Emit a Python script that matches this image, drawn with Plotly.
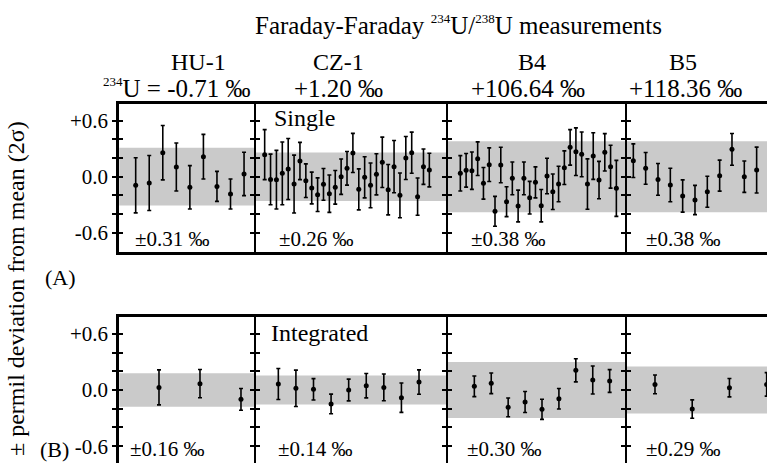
import plotly.graph_objects as go

W, H = 767, 463
FONT = "Liberation Serif"


def px(x):
    return x / W


def py(y):
    return 1 - y / H


def sup(t, size):
    return f'<sup><span style="font-size:{size}px">{t}</span></sup>'


# ---------------- data ----------------
samples = ["HU-1", "CZ-1", "B4", "B5"]
delta234 = [sup("234", 13) + "U = -0.71 ‰", "+1.20 ‰", "+106.64 ‰", "+118.36 ‰"]

# (A) Single measurements: deviation from mean (permil) and 2-sigma errors
single_hu1 = [-0.093, -0.068, 0.257, 0.104, -0.114, 0.214, -0.104, -0.186, 0.029]
single_hu1_err = [0.295, 0.295, 0.291, 0.257, 0.232, 0.239, 0.161, 0.161, 0.232]

single_cz1 = [0.236, -0.029, -0.032, 0.036, 0.082, -0.079, 0.168, -0.043, -0.121, -0.193,
              -0.082, -0.182, -0.114, 0.0, 0.089, 0.254, -0.136, -0.007, -0.093, 0.025,
              0.154, -0.139, 0.107, -0.2, 0.2, 0.257, -0.214, 0.107, 0.071]
single_cz1_err = [0.268, 0.271, 0.314, 0.336, 0.327, 0.31, 0.2, 0.18, 0.17, 0.18,
                  0.17, 0.2, 0.18, 0.19, 0.18, 0.21, 0.22, 0.22, 0.24, 0.22,
                  0.27, 0.27, 0.28, 0.24, 0.23, 0.22, 0.2, 0.19, 0.18]

single_b4 = [0.036, 0.068, 0.064, 0.193, -0.071, 0.129, -0.371, 0.125, -0.268, -0.018,
             -0.314, -0.018, -0.225, -0.061, -0.311, 0.007, -0.161, -0.079, 0.096, 0.314,
             0.268, 0.239, -0.079, 0.221, -0.036, 0.261, 0.107, -0.125]
single_b4_err = [0.19, 0.18, 0.20, 0.18, 0.17, 0.18, 0.16, 0.19, 0.16, 0.175,
                 0.17, 0.175, 0.175, 0.166, 0.173, 0.19, 0.19, 0.19, 0.18, 0.19,
                 0.255, 0.24, 0.27, 0.25, 0.2, 0.2, 0.23, 0.3]

single_b5 = [0.171, 0.089, -0.029, -0.089, -0.207, -0.25, -0.161, 0.011, 0.293, 0.0, 0.071]
single_b5_err = [0.18, 0.17, 0.17, 0.18, 0.173, 0.157, 0.166, 0.166, 0.17, 0.168, 0.246]

# (B) Integrated measurements
integ_hu1 = [0.028, 0.068, -0.1]
integ_hu1_err = [0.187, 0.151, 0.116]

integ_cz1 = [0.064, 0.018, 0.007, -0.149, 0.0, 0.046, 0.028, -0.082, 0.085]
integ_cz1_err = [0.165, 0.194, 0.114, 0.105, 0.116, 0.13, 0.142, 0.157, 0.13]

integ_b4 = [0.039, 0.071, -0.185, -0.128, -0.206, -0.093, 0.21, 0.107, 0.096]
integ_b4_err = [0.11, 0.11, 0.10, 0.112, 0.107, 0.109, 0.123, 0.149, 0.121]

integ_b5 = [0.06, -0.203, 0.025, 0.06]
integ_b5_err = [0.1, 0.098, 0.098, 0.125]

# external reproducibility (2 sigma) bands
single_band = [0.31, 0.26, 0.38, 0.38]
single_band_text = ["±0.31 ‰", "±0.26 ‰", "±0.38 ‰", "±0.38 ‰"]
integ_band = [0.18, 0.155, 0.30, 0.25]
integ_band_text = ["±0.16 ‰", "±0.14 ‰", "±0.30 ‰", "±0.29 ‰"]

single_vals = [single_hu1, single_cz1, single_b4, single_b5]
single_errs = [single_hu1_err, single_cz1_err, single_b4_err, single_b5_err]
integ_vals = [integ_hu1, integ_cz1, integ_b4, integ_b5]
integ_errs = [integ_hu1_err, integ_cz1_err, integ_b4_err, integ_b5_err]

major_ticks = [-0.6, 0.0, 0.6]
major_text = ["-0.6", "0.0", "+0.6"]
minor_ticks = [-0.4, -0.2, 0.2, 0.4]
all_ticks = [-0.6, -0.4, -0.2, 0.0, 0.2, 0.4, 0.6]

# ---------------- layout geometry ----------------
edges = [119.3, 255.7, 447.7, 626.7, 767]
top_dom = [py(252), py(103.5)]
bot_dom = [0, py(317)]
top_yrange = [-0.807, 0.784]
bot_yrange = [-0.779, 0.779]
top_xranges = [[-1.21, 8.86], [-1.525, 31.12], [-2.186, 28.79], [-0.538, 10.84]]
bot_xranges = [[-0.968, 2.359], [-1.287, 9.632], [-1.574, 9.007], [-0.76, 3.009]]

fig = go.Figure()
layout = dict(
    width=W, height=H, margin=dict(l=0, r=0, t=0, b=0),
    paper_bgcolor="white", plot_bgcolor="white", showlegend=False,
    font=dict(family=FONT, size=21, color="black"),
)
shapes = []
annotations = []

rows = [
    (single_vals, single_errs, single_band, top_dom, top_yrange, top_xranges, True),
    (integ_vals, integ_errs, integ_band, bot_dom, bot_yrange, bot_xranges, False),
]

n = 0
for r, (vals, errs, bands, ydom, yrng, xrngs, is_top) in enumerate(rows):
    for c in range(4):
        n += 1
        xa = "x" if n == 1 else f"x{n}"
        ya = "y" if n == 1 else f"y{n}"
        ov = n + 8
        yov = f"y{ov}"
        fig.add_trace(go.Scatter(
            x=list(range(len(vals[c]))), y=vals[c], mode="markers",
            marker=dict(color="black", size=5),
            error_y=dict(type="data", array=errs[c], color="black", thickness=1.6, width=2),
            xaxis=xa, yaxis=ya, cliponaxis=True,
        ))
        fig.add_trace(go.Scatter(x=[], y=[], xaxis=xa, yaxis=yov, showlegend=False))
        xkw = dict(
            domain=[px(edges[c]), px(edges[c + 1])], range=xrngs[c], anchor=ya,
            showgrid=False, zeroline=False, showticklabels=False, ticks="",
            showline=True, linecolor="black", linewidth=3,
        )
        if is_top:
            xkw["mirror"] = True
        else:
            xkw["side"] = "top"
        layout["xaxis" if n == 1 else f"xaxis{n}"] = xkw
        ykw = dict(
            domain=ydom, range=yrng, anchor=xa, showgrid=False, zeroline=False,
            showline=True, linecolor="black", linewidth=3 if c == 0 else 2,
            ticks="outside", ticklen=4, tickwidth=1.5, tickcolor="black",
            tickmode="array", tickvals=major_ticks, ticktext=major_text,
            minor=dict(tickmode="array", tickvals=minor_ticks, ticks="outside",
                       ticklen=4, tickwidth=1.5, tickcolor="black", showgrid=False),
            showticklabels=(c == 0), tickfont=dict(size=21, family=FONT),
        )
        layout["yaxis" if n == 1 else f"yaxis{n}"] = ykw
        layout[f"yaxis{ov}"] = dict(
            overlaying=ya, anchor=xa, range=yrng, showgrid=False, zeroline=False,
            showline=False, ticks="inside", ticklen=4, tickwidth=1.5, tickcolor="black",
            tickmode="array", tickvals=all_ticks, showticklabels=False, side="left",
        )
        shapes.append(dict(
            type="rect", xref=f"{xa} domain", yref=ya, x0=0, x1=1,
            y0=-bands[c], y1=bands[c], fillcolor="#cacaca", line=dict(width=0),
            layer="below",
        ))

# ---------------- texts ----------------
def ann(text, x, y, size, xanchor="center", **kw):
    annotations.append(dict(
        text=text, x=px(x), y=py(y), xref="paper", yref="paper", showarrow=False,
        xanchor=xanchor, yanchor="middle", font=dict(family=FONT, size=size, color="black"),
        **kw,
    ))

ann("Faraday-Faraday " + sup("234", 13) + "U/" + sup("238", 13) + "U measurements",
    458.5, 25, 25)
name_x = [198, 338, 531.7, 683.3]
delta_x = [176.5, 338, 528.3, 685]
for i in range(4):
    ann(samples[i], name_x[i], 62, 24)
    ann(delta234[i], delta_x[i], 88, 25)

top_lbl_x = [133.3, 277.3, 469, 644]
bot_lbl_x = [128.3, 276, 465, 644]
for i in range(4):
    ann(single_band_text[i], top_lbl_x[i], 238.5, 21, xanchor="left")
    ann(integ_band_text[i], bot_lbl_x[i], 449, 21, xanchor="left")

ann("Single", 271.7, 118, 24, xanchor="left")
ann("Integrated", 269.3, 333, 24, xanchor="left")
ann("(A)", 43, 277, 22, xanchor="left")
ann("(B)", 38, 449, 22, xanchor="left")
ann("± permil deviation from mean (2σ)", 16, 289, 24, textangle=-90)

layout["shapes"] = shapes
layout["annotations"] = annotations
fig.update_layout(**layout)
fig.write_html("out.html")
